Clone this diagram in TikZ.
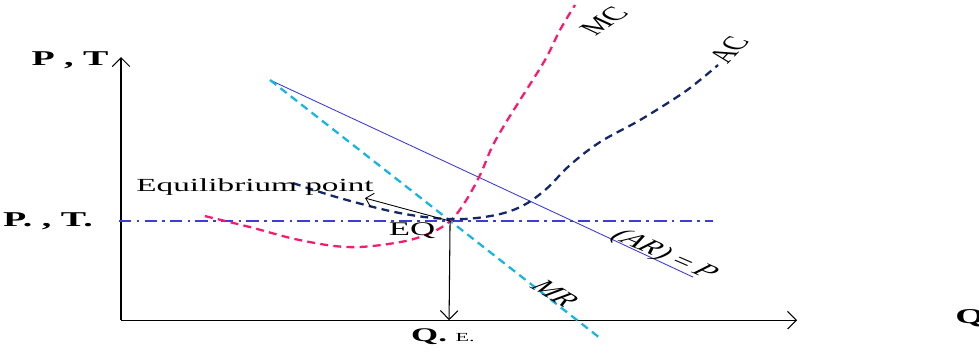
\documentclass[tikz,border=0pt]{standalone}
\usepackage{fontspec}
\setmainfont{Liberation Serif}
\usetikzlibrary{arrows.meta}
\definecolor{mccol}{RGB}{250,25,110}
\definecolor{accol}{RGB}{20,40,105}
\definecolor{mrcol}{RGB}{25,180,230}
\definecolor{arcol}{RGB}{60,60,215}

\begin{document}
\begin{tikzpicture}[x=0.0111111cm,y=0.02cm,xscale=1.8,transform shape,
  axis/.style={line width=0.6pt,-{Straight Barb[length=5pt,width=10pt]}},
  curve/.style={line width=1.3pt,dash pattern=on 4.5pt off 3pt},
  lbl/.style={inner sep=1pt,font=\fontsize{11}{13}\selectfont}]
\useasboundingbox (0,0) rectangle (979,352);
% axes
\coordinate (O) at (121,32);
\coordinate (ytop) at (121,295);
\coordinate (xend) at (797,32);
\draw[axis] (O) -- (ytop);
\draw[axis] (O) -- (xend);
\node[lbl,font=\fontsize{12}{14}\selectfont\bfseries] (pt) at (70,292) {P , T};
\node[lbl,font=\fontsize{12}{14}\selectfont\bfseries] (q) at (970,34) {Q};
% equilibrium
\coordinate (eq) at (450,131);
\coordinate (qe) at (449,32);
\coordinate (pl) at (119,131);
\coordinate (pr) at (713,131);
\draw[arcol,line width=0.9pt,dash pattern=on 7pt off 3pt on 1.5pt off 3pt] (pl) -- (pr);
\node[lbl,font=\fontsize{12}{14}\selectfont\bfseries] (ptq) at (48,131) {P. , T.};
% AR and MR
\coordinate (top) at (270,272);
\coordinate (arend) at (693,75);
\coordinate (mrend) at (600,14);
\draw[arcol,line width=0.5pt] (top) -- (arend);
\draw[mrcol,curve] (top) -- (mrend);
\node[lbl,rotate=-38] (ar) at (664,97) {\textit{(AR)} = \textit{P}};
\node[lbl,rotate=-46] (mr) at (555,59) {\textit{MR}};
% MC curve
\draw[mccol,curve] plot[smooth,tension=0.6] coordinates {(205,136) (250,125) (300,112) (350,105)
  (400,110) (430,119) (450,131) (465,150) (480,177) (492,205) (505,228) (520,252)
  (545,292) (560,322) (575,347)};
\node[lbl,rotate=50] (mc) at (604,331) {MC};
% AC curve
\draw[accol,curve] plot[smooth,tension=0.6] coordinates {(293,169) (340,154) (400,139) (450,133)
  (490,136) (520,145) (545,162) (570,187) (600,210) (640,232) (680,257) (700,272) (718,287)};
\node[lbl,rotate=62] (ac) at (729,302) {AC};
% labels at the equilibrium
\node[lbl,font=\fontsize{10.5}{12}\selectfont] (eqp) at (255,165) {Equilibrium point};
\coordinate (eqtip) at (365,154);
\draw[line width=0.5pt,-{Straight Barb[length=4pt,width=8pt]}] (eq) -- (eqtip);
\node[lbl] (eqlbl) at (412,121) {EQ};
\draw[axis] (eq) -- (qe);
\node[lbl] (qelbl) at (443,15) {\textbf{Q.} {\scriptsize E.}};
\end{tikzpicture}
\end{document}
